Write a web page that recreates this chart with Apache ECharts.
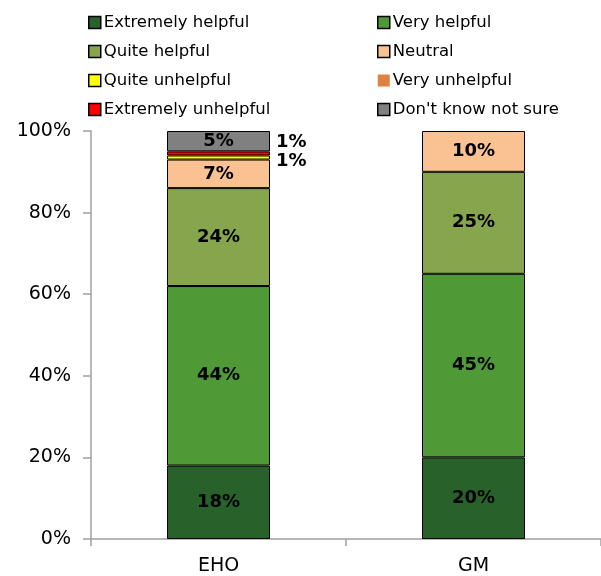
<!DOCTYPE html>
<html>
<head>
<meta charset="utf-8">
<script src="https://cdn.jsdelivr.net/npm/echarts@6/dist/echarts.min.js"></script>
<style>
  html, body { margin: 0; padding: 0; background: #fff; }
  #chart { width: 601px; height: 576px; }
</style>
</head>
<body>
<div id="chart"></div>
<script>
// Groups on the category axis
const categories = ['EHO', 'GM'];

// Response shares (%) per group, stacked bottom to top
const extremelyHelpful   = [18, 20];
const veryHelpful        = [44, 45];
const quiteHelpful       = [24, 25];
const neutral            = [7, 10];
const quiteUnhelpful     = [1, null];
const veryUnhelpful      = [null, null];
const extremelyUnhelpful = [1, null];
const dontKnow           = [5, null];

// Percentage tick labels on the value axis
const yTicks = ['0%', '20%', '40%', '60%', '80%', '100%'];

const FONT = 'DejaVu Sans';

const seriesDefs = [
  { name: 'Extremely helpful',   data: extremelyHelpful,   color: '#28612a' },
  { name: 'Very helpful',        data: veryHelpful,        color: '#4f9a37' },
  { name: 'Quite helpful',       data: quiteHelpful,       color: '#87a54d' },
  { name: 'Neutral',             data: neutral,            color: '#fac192' },
  { name: 'Quite unhelpful',     data: quiteUnhelpful,     color: '#ffff00', side: [0, 4] },
  { name: 'Very unhelpful',      data: veryUnhelpful,      color: '#dd8240' },
  { name: 'Extremely unhelpful', data: extremelyUnhelpful, color: '#ff0000', side: [0, -11] },
  { name: "Don't know not sure", data: dontKnow,           color: '#808080' }
];

const series = seriesDefs.map(d => ({
  name: d.name,
  type: 'bar',
  stack: 'total',
  barWidth: 103,
  data: d.data,
  itemStyle: { color: d.color, borderColor: '#000', borderWidth: 1 },
  label: {
    show: true,
    position: d.side ? 'right' : 'inside',
    offset: d.side || [0, 0],
    distance: 6,
    color: '#000',
    fontFamily: FONT,
    fontWeight: 'bold',
    fontSize: 18,
    formatter: p => (p.value ? p.value + '%' : '')
  },
  emphasis: { disabled: true }
}));

function legendItem(name) {
  const def = seriesDefs.find(d => d.name === name);
  const item = { name: name };
  if (name === 'Very unhelpful') {
    item.itemStyle = { color: def.color, borderWidth: 0 };
  }
  return item;
}

const legendCommon = {
  orient: 'vertical',
  top: 9,
  icon: 'rect',
  itemWidth: 12,
  itemHeight: 12,
  itemGap: 12,
  selectedMode: false,
  itemStyle: { borderColor: '#000', borderWidth: 1.5 },
  textStyle: { color: '#000', fontFamily: FONT, fontSize: 16.5, padding: [0, 0, 0, -2] }
};

const chart = echarts.init(document.getElementById('chart'), null, { renderer: 'canvas' });
chart.setOption({
  animation: false,
  backgroundColor: '#fff',
  legend: [
    Object.assign({}, legendCommon, {
      left: 83,
      data: ['Extremely helpful', 'Quite helpful', 'Quite unhelpful', 'Extremely unhelpful'].map(legendItem)
    }),
    Object.assign({}, legendCommon, {
      left: 372,
      data: ['Very helpful', 'Neutral', 'Very unhelpful', "Don't know not sure"].map(legendItem)
    })
  ],
  grid: { left: 91, right: -4, top: 131, bottom: 37, containLabel: false },
  xAxis: {
    type: 'category',
    data: categories,
    axisLine: { lineStyle: { color: '#a0a0a0', width: 1.5 } },
    axisTick: { show: true, length: 7, inside: false, lineStyle: { color: '#a0a0a0', width: 1.5 } },
    axisLabel: { color: '#000', fontFamily: FONT, fontSize: 19, margin: 18 }
  },
  yAxis: {
    type: 'value',
    min: 0,
    max: 100,
    interval: 20,
    axisLine: { show: true, lineStyle: { color: '#a0a0a0', width: 1.5 } },
    axisTick: { show: true, length: 8, lineStyle: { color: '#a0a0a0', width: 1.5 } },
    splitLine: { show: false },
    axisLabel: {
      color: '#000',
      fontFamily: FONT,
      fontSize: 19,
      margin: 20,
      formatter: v => yTicks[Math.round(v / 20)]
    }
  },
  series: series
});
</script>
</body>
</html>
